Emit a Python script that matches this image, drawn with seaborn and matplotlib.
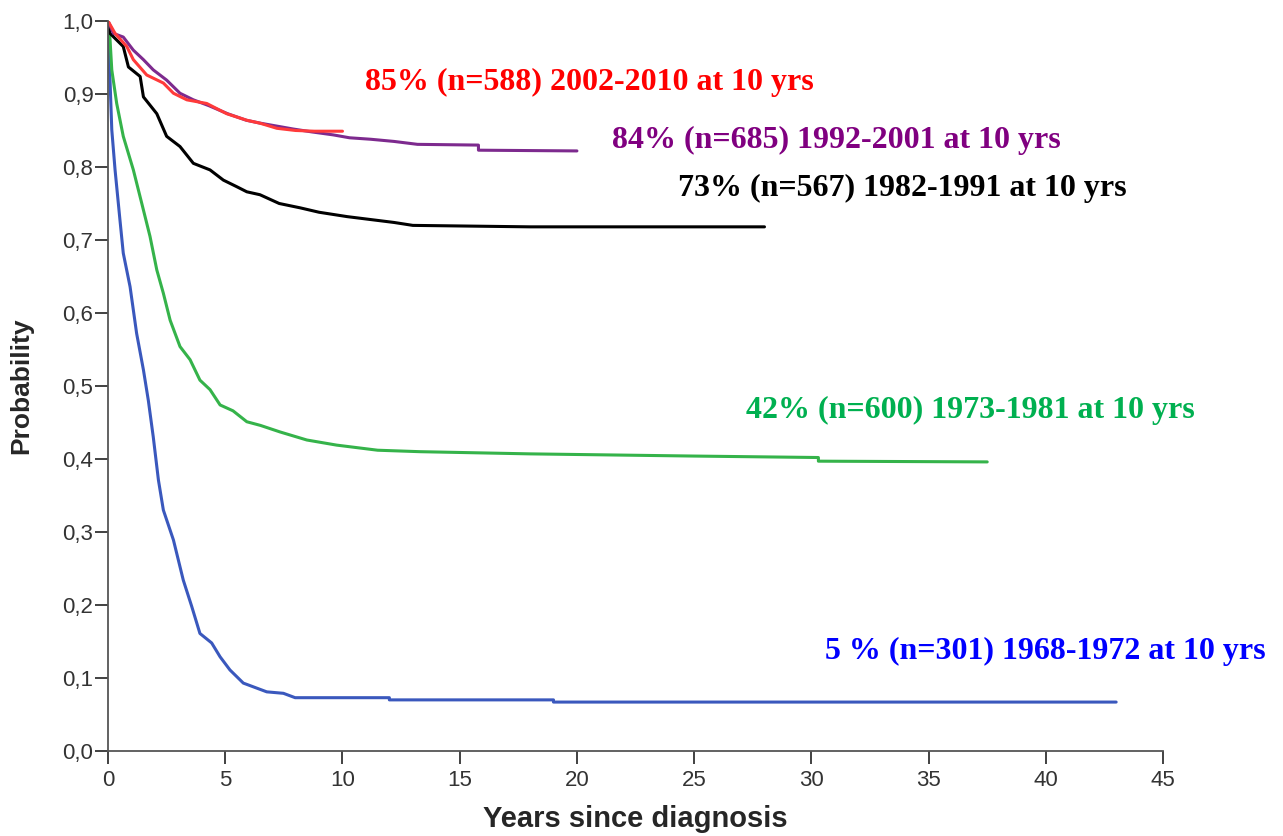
import numpy as np
import pandas as pd
import matplotlib
matplotlib.use("Agg")
import matplotlib.pyplot as plt
import seaborn as sns

# ---- data ----
periods = ["2002-2010", "1992-2001", "1982-1991", "1973-1981", "1968-1972"]

t_2002 = [0, 0.3, 0.8, 1.08, 1.65, 2.36, 2.79, 3.36, 4.21, 5.06, 5.92, 6.48, 7.2, 8.0, 8.8, 10.0]
s_2002 = [1.0, 0.983, 0.965, 0.947, 0.926, 0.915, 0.901, 0.892, 0.887, 0.873, 0.864, 0.86, 0.853, 0.85, 0.849, 0.849]

t_1992 = [0, 0.23, 0.65, 1.08, 1.51, 1.93, 2.5, 3.07, 3.64, 4.3, 5.1, 5.9, 6.5, 7.2, 7.9, 8.7, 9.6, 10.3, 11.2, 12.2, 13.2, 15.8, 15.8, 20.0]
s_1992 = [1.0, 0.983, 0.978, 0.96, 0.947, 0.933, 0.919, 0.901, 0.892, 0.884, 0.873, 0.864, 0.86, 0.856, 0.852, 0.848, 0.844, 0.840, 0.838, 0.835, 0.831, 0.83, 0.823, 0.822]

t_1982 = [0, 0.085, 0.65, 0.87, 1.37, 1.51, 2.08, 2.5, 3.07, 3.64, 4.35, 4.92, 5.49, 5.92, 6.48, 7.3, 8.2, 9.0, 10.2, 11.2, 12.2, 13.0, 18.0, 28.0]
s_1982 = [1.0, 0.983, 0.965, 0.937, 0.924, 0.896, 0.873, 0.842, 0.828, 0.805, 0.796, 0.782, 0.773, 0.766, 0.762, 0.75, 0.744, 0.738, 0.732, 0.728, 0.724, 0.720, 0.718, 0.718]

t_1973 = [0, 0.02, 0.085, 0.16, 0.37, 0.65, 1.08, 1.44, 1.79, 2.08, 2.36, 2.65, 3.07, 3.5, 3.92, 4.35, 4.78, 5.33, 5.92, 6.5, 7.34, 8.48, 9.75, 10.5, 11.5, 13.3, 18.0, 25.0, 30.3, 30.3, 37.5]
s_1973 = [1.0, 0.99, 0.975, 0.933, 0.887, 0.842, 0.796, 0.75, 0.705, 0.659, 0.627, 0.59, 0.554, 0.536, 0.508, 0.495, 0.474, 0.466, 0.451, 0.446, 0.437, 0.426, 0.419, 0.416, 0.412, 0.41, 0.407, 0.404, 0.402, 0.397, 0.396]

t_1968 = [0, 0.02, 0.085, 0.16, 0.3, 0.51, 0.65, 0.94, 1.22, 1.51, 1.72, 1.93, 2.15, 2.36, 2.79, 3.21, 3.57, 3.92, 4.42, 4.78, 5.2, 5.77, 6.77, 7.48, 7.98, 12.0, 12.0, 19.0, 19.0, 43.0]
s_1968 = [1.0, 0.96, 0.919, 0.851, 0.796, 0.727, 0.682, 0.636, 0.572, 0.522, 0.48, 0.43, 0.371, 0.33, 0.289, 0.234, 0.198, 0.161, 0.148, 0.129, 0.111, 0.093, 0.081, 0.079, 0.073, 0.073, 0.070, 0.070, 0.067, 0.067]

labels = [
    "85% (n=588) 2002-2010 at 10 yrs",
    "84% (n=685) 1992-2001 at 10 yrs",
    "73% (n=567) 1982-1991 at 10 yrs",
    "42% (n=600) 1973-1981 at 10 yrs",
    "5 % (n=301) 1968-1972 at 10 yrs",
]
label_x = [10.96, 21.5, 24.3, 27.2, 30.6]
label_y = [0.916, 0.837, 0.771, 0.466, 0.136]

x_ticks = [0, 5, 10, 15, 20, 25, 30, 35, 40, 45]
y_ticks = [0.0, 0.1, 0.2, 0.3, 0.4, 0.5, 0.6, 0.7, 0.8, 0.9, 1.0]
y_ticklabels = ["0,0", "0,1", "0,2", "0,3", "0,4", "0,5", "0,6", "0,7", "0,8", "0,9", "1,0"]

line_colors = ["#ff3a3a", "#7d2a8e", "#000000", "#35b34a", "#3a58bd"]
text_colors = ["#ff0000", "#800080", "#000000", "#00b050", "#0000ff"]

# ---- build long table ----
frames = []
for name, t, s in zip(periods, [t_2002, t_1992, t_1982, t_1973, t_1968],
                      [s_2002, s_1992, s_1982, s_1973, s_1968]):
    frames.append(pd.DataFrame({"years": t, "prob": s, "period": name}))
df = pd.concat(frames, ignore_index=True)

sns.set_style("ticks")
plt.rcParams["font.family"] = ["Liberation Sans", "DejaVu Sans"]

fig = plt.figure(figsize=(12.83, 8.36), dpi=100)
ax = fig.add_axes([0.0842, 0.1017, 0.8223, 0.8732])

order = periods[::-1]
pal = dict(zip(periods, line_colors))
for name in order:
    sub = df[df["period"] == name]
    sns.lineplot(data=sub, x="years", y="prob", color=pal[name], ax=ax,
                 estimator=None, sort=False, linewidth=2.2, legend=False)

ax.set_xlim(0, 45)
ax.set_ylim(0, 1.0)
ax.set_xticks(x_ticks)
ax.set_yticks(y_ticks)
ax.set_yticklabels(y_ticklabels)
ax.tick_params(axis="both", direction="out", length=9.5, width=1.3,
               colors="#333333", labelsize=16, labelcolor="#333333")
ax.tick_params(axis="x", pad=4)
ax.tick_params(axis="y", pad=1)
for sp in ["top", "right"]:
    ax.spines[sp].set_visible(False)
for sp in ["left", "bottom"]:
    ax.spines[sp].set_color("#555555")
    ax.spines[sp].set_linewidth(1.3)

ax.set_xlabel("Years since diagnosis", fontsize=21, fontweight="bold")
ax.set_ylabel("Probability", fontsize=19, fontweight="bold")
ax.xaxis.set_label_coords(0.5, -0.074)
ax.yaxis.set_label_coords(-0.071, 0.5)

for txt, x, y, c in zip(labels, label_x, label_y, text_colors):
    ax.text(x, y, txt, color=c, fontsize=23, fontweight="bold",
            family=["Liberation Serif", "DejaVu Serif"], va="center", ha="left",
            clip_on=False)

fig.savefig("out.png", dpi=100)
